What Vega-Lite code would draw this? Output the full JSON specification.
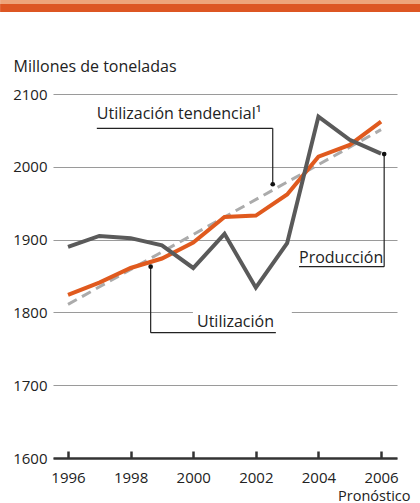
{
  "$schema": "https://vega.github.io/schema/vega-lite/v6.json",
  "width": 344,
  "height": 364,
  "autosize": "none",
  "padding": {"left": 53, "top": 94, "right": 23, "bottom": 45},
  "background": "white",
  "config": {
    "view": {"stroke": null},
    "font": "Open Sans",
    "text": {"font": "Open Sans", "fontSize": 16, "color": "#222222"}
  },
  "datasets": {
    "series": [
      {"year": 1996, "series": "Utilización", "value": 1890},
      {"year": 1997, "series": "Utilización", "value": 1905},
      {"year": 1998, "series": "Utilización", "value": 1902},
      {"year": 1999, "series": "Utilización", "value": 1892},
      {"year": 2000, "series": "Utilización", "value": 1861},
      {"year": 2001, "series": "Utilización", "value": 1908},
      {"year": 2002, "series": "Utilización", "value": 1834},
      {"year": 2003, "series": "Utilización", "value": 1895},
      {"year": 2004, "series": "Utilización", "value": 2069},
      {"year": 2005, "series": "Utilización", "value": 2037},
      {"year": 2006, "series": "Utilización", "value": 2018},
      {"year": 1996, "series": "Producción", "value": 1824},
      {"year": 1997, "series": "Producción", "value": 1841},
      {"year": 1998, "series": "Producción", "value": 1861},
      {"year": 1999, "series": "Producción", "value": 1874},
      {"year": 2000, "series": "Producción", "value": 1896},
      {"year": 2001, "series": "Producción", "value": 1931},
      {"year": 2002, "series": "Producción", "value": 1933},
      {"year": 2003, "series": "Producción", "value": 1962},
      {"year": 2004, "series": "Producción", "value": 2014},
      {"year": 2005, "series": "Producción", "value": 2030},
      {"year": 2006, "series": "Producción", "value": 2062}
    ],
    "trend": [
      {"year": 1996, "value": 1811},
      {"year": 2006, "value": 2051}
    ],
    "leaders": [
      {"year": 1996.92, "value": 2052.9, "year2": 2002.54, "value2": 2052.9},
      {"year": 2002.54, "value": 2052.9, "year2": 2002.54, "value2": 1976},
      {"year": 2003.38, "value": 1862.8, "year2": 2006.1, "value2": 1862.8},
      {"year": 2006.1, "value": 1862.8, "year2": 2006.1, "value2": 2017.5},
      {"year": 1998.64, "value": 1772.1, "year2": 2002.64, "value2": 1772.1},
      {"year": 1998.64, "value": 1772.1, "year2": 1998.64, "value2": 1862.8}
    ],
    "dots": [
      {"year": 2002.54, "value": 1976},
      {"year": 2006.1, "value": 2017.5},
      {"year": 1998.64, "value": 1862.8}
    ],
    "labels": [
      {"year": 1996.92, "value": 2065.7, "label": "Utilización tendencial¹", "align": "left"},
      {"year": 2003.38, "value": 1868.3, "label": "Producción", "align": "left"},
      {"year": 2002.58, "value": 1780.4, "label": "Utilización", "align": "right"}
    ],
    "gaps": [
      {"year": 1999.99, "year2": 2003.15, "value": 1790, "value2": 1810}
    ],
    "bands": [
      {"band": "light", "year": 1993.83, "year2": 2007.25, "value": 2223.6, "value2": 2229.1},
      {"band": "dark", "year": 1993.83, "year2": 2007.25, "value": 2212.6, "value2": 2223.6}
    ]
  },
  "layer": [
    {
      "data": {"name": "trend"},
      "mark": {"type": "line", "color": "#ababab", "strokeWidth": 3, "strokeDash": [10, 6]},
      "encoding": {
        "x": {
          "field": "year", "type": "quantitative",
          "scale": {"domain": [1995.52, 2006.51], "nice": false, "zero": false},
          "axis": {
            "values": [1996, 1997, 1998, 1999, 2000, 2001, 2002, 2003, 2004, 2005, 2006],
            "labelExpr": "datum.value % 2 === 0 ? format(datum.value, 'd') : ''",
            "grid": false,
            "domain": true, "domainColor": "#333333", "domainWidth": 2.5,
            "ticks": true, "tickSize": -7, "tickWidth": 2.5, "tickColor": "#333333",
            "labelFontSize": 15, "labelColor": "#222222", "labelPadding": 19,
            "labelFont": "Open Sans",
            "title": "Pronóstico", "titleFontSize": 14.5, "titleFontWeight": "normal",
            "titleColor": "#222222", "titleFont": "Open Sans",
            "titleX": 357, "titleY": 42, "titleAlign": "right", "titleBaseline": "alphabetic",
            "titleAnchor": null
          }
        },
        "y": {
          "field": "value", "type": "quantitative",
          "scale": {"domain": [1600, 2100], "nice": false, "zero": false},
          "axis": {
            "values": [1600, 1700, 1800, 1900, 2000, 2100],
            "format": "d",
            "grid": true, "gridColor": "#9a9a9a", "gridWidth": 1.2,
            "domain": false, "ticks": false,
            "labelFontSize": 15, "labelColor": "#222222", "labelPadding": 6,
            "labelFont": "Open Sans",
            "title": "Millones de toneladas", "titleAngle": 0, "titleAlign": "left",
            "titleBaseline": "alphabetic", "titleX": -40, "titleY": -23,
            "titleFontSize": 16, "titleFontWeight": "normal", "titleColor": "#222222",
            "titleFont": "Open Sans", "titleAnchor": null
          }
        }
      }
    },
    {
      "data": {"name": "series"},
      "transform": [{"filter": "datum.series === 'Producción'"}],
      "mark": {"type": "line", "color": "#e05a1e", "strokeWidth": 4, "strokeJoin": "miter"},
      "encoding": {
        "x": {"field": "year", "type": "quantitative"},
        "y": {"field": "value", "type": "quantitative"}
      }
    },
    {
      "data": {"name": "series"},
      "transform": [{"filter": "datum.series === 'Utilización'"}],
      "mark": {"type": "line", "color": "#5a5a5a", "strokeWidth": 4, "strokeJoin": "miter"},
      "encoding": {
        "x": {"field": "year", "type": "quantitative"},
        "y": {"field": "value", "type": "quantitative"}
      }
    },
    {
      "data": {"name": "gaps"},
      "mark": {"type": "rect", "color": "white"},
      "encoding": {
        "x": {"field": "year", "type": "quantitative"},
        "x2": {"field": "year2"},
        "y": {"field": "value", "type": "quantitative"},
        "y2": {"field": "value2"}
      }
    },
    {
      "data": {"name": "leaders"},
      "mark": {"type": "rule", "color": "#222222", "strokeWidth": 1.2},
      "encoding": {
        "x": {"field": "year", "type": "quantitative"},
        "x2": {"field": "year2"},
        "y": {"field": "value", "type": "quantitative"},
        "y2": {"field": "value2"}
      }
    },
    {
      "data": {"name": "dots"},
      "mark": {"type": "point", "filled": true, "color": "#111111", "size": 22, "opacity": 1},
      "encoding": {
        "x": {"field": "year", "type": "quantitative"},
        "y": {"field": "value", "type": "quantitative"}
      }
    },
    {
      "data": {"name": "labels"},
      "transform": [{"filter": "datum.align === 'left'"}],
      "mark": {"type": "text", "align": "left", "baseline": "alphabetic", "fontSize": 16},
      "encoding": {
        "x": {"field": "year", "type": "quantitative"},
        "y": {"field": "value", "type": "quantitative"},
        "text": {"field": "label"}
      }
    },
    {
      "data": {"name": "labels"},
      "transform": [{"filter": "datum.align === 'right'"}],
      "mark": {"type": "text", "align": "right", "baseline": "alphabetic", "fontSize": 16},
      "encoding": {
        "x": {"field": "year", "type": "quantitative"},
        "y": {"field": "value", "type": "quantitative"},
        "text": {"field": "label"}
      }
    },
    {
      "data": {"name": "bands"},
      "mark": {"type": "rect"},
      "encoding": {
        "x": {"field": "year", "type": "quantitative"},
        "x2": {"field": "year2"},
        "y": {"field": "value", "type": "quantitative"},
        "y2": {"field": "value2"},
        "color": {
          "field": "band", "type": "nominal",
          "scale": {"domain": ["light", "dark"], "range": ["#eea47a", "#dd5623"]},
          "legend": null
        }
      }
    }
  ]
}
